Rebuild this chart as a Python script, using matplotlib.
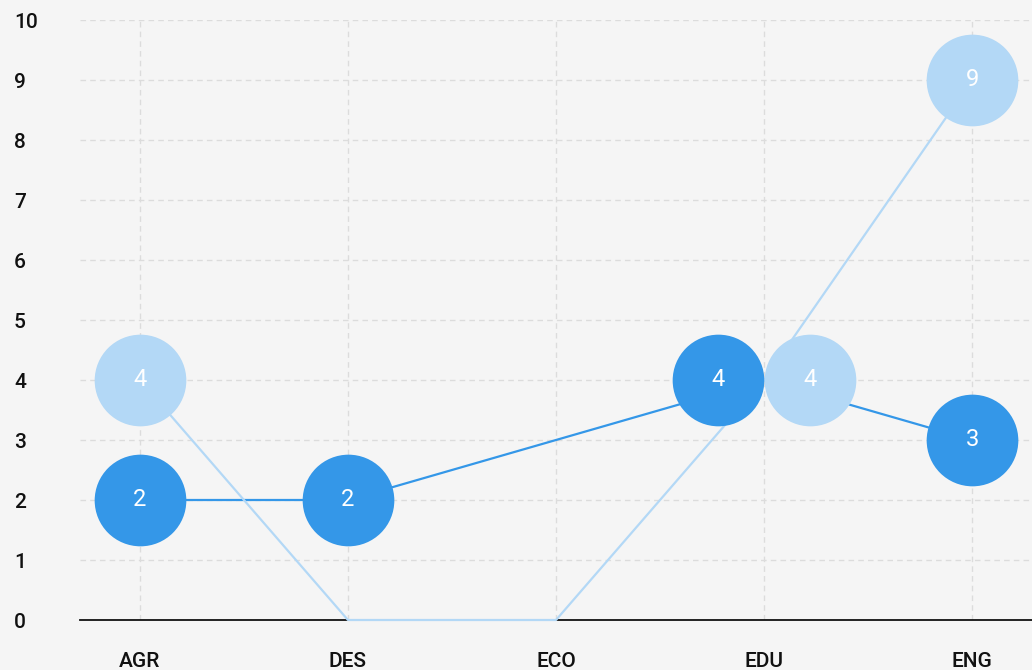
import numpy as np
import matplotlib.pyplot as plt

# categories and the two series (None = no value for that category)
categories = ['AGR', 'DES', 'ECO', 'EDU', 'ENG']
series_dark = [2, 2, None, 4, 3]
series_light = [4, 0, 0, 4, 9]
y_ticks = list(range(0, 11))

dark_color = '#3497e8'
light_color = '#b3d8f6'
bg_color = '#f5f5f5'

plt.rcParams['font.family'] = ['Roboto', 'DejaVu Sans']

fig = plt.figure(figsize=(10.32, 6.70), dpi=100, facecolor=bg_color)
ax = fig.add_axes([80 / 1032, 50 / 670, 952 / 1032, 600 / 670])
ax.set_facecolor(bg_color)

x = np.arange(len(categories))


def to_array(vals):
    return np.array([np.nan if v is None else v for v in vals], dtype=float)


dark = to_array(series_dark)
light = to_array(series_light)

# lines skip missing values
ok = ~np.isnan(dark)
ax.plot(x[ok], dark[ok], color=dark_color, lw=1.6, zorder=2, clip_on=False)
ok = ~np.isnan(light)
ax.plot(x[ok], light[ok], color=light_color, lw=1.6, zorder=2, clip_on=False)

# bubbles: side by side where both series share the same value
shift = 0.222
for i in range(len(categories)):
    d, l = dark[i], light[i]
    same = (not np.isnan(d)) and (not np.isnan(l)) and d == l and d > 0
    for val, col, off in [(d, dark_color, -shift), (l, light_color, shift)]:
        if np.isnan(val) or val <= 0:
            continue
        xi = x[i] + (off if same else 0)
        ax.plot(xi, val, 'o', ms=66, color=col, mec='none', zorder=3, clip_on=False)
        ax.text(xi, val, f'{val:g}', color='white', fontsize=17,
                ha='center', va='center', zorder=4)

ax.set_xlim(-0.288, len(categories) - 1 + 0.288)
ax.set_ylim(0, 10)
ax.set_xticks(x)
ax.set_xticklabels(categories)
ax.set_yticks(y_ticks)
ax.set_yticklabels([str(t) for t in y_ticks], ha='left')

ax.tick_params(axis='both', length=0, labelsize=15, labelcolor='#111111')
ax.tick_params(axis='y', pad=47.5)
ax.tick_params(axis='x', pad=23)
for lab in ax.get_xticklabels() + ax.get_yticklabels():
    lab.set_fontweight('medium')

ax.grid(True, color='#dcdcdc', linestyle=(0, (4, 3)), linewidth=1)
ax.set_axisbelow(True)
for side in ['top', 'right', 'left']:
    ax.spines[side].set_visible(False)
ax.spines['bottom'].set_color('#111111')
ax.spines['bottom'].set_linewidth(1.3)
ax.spines['bottom'].set_zorder(1)

fig.savefig('out.png', dpi=100, facecolor=bg_color)
